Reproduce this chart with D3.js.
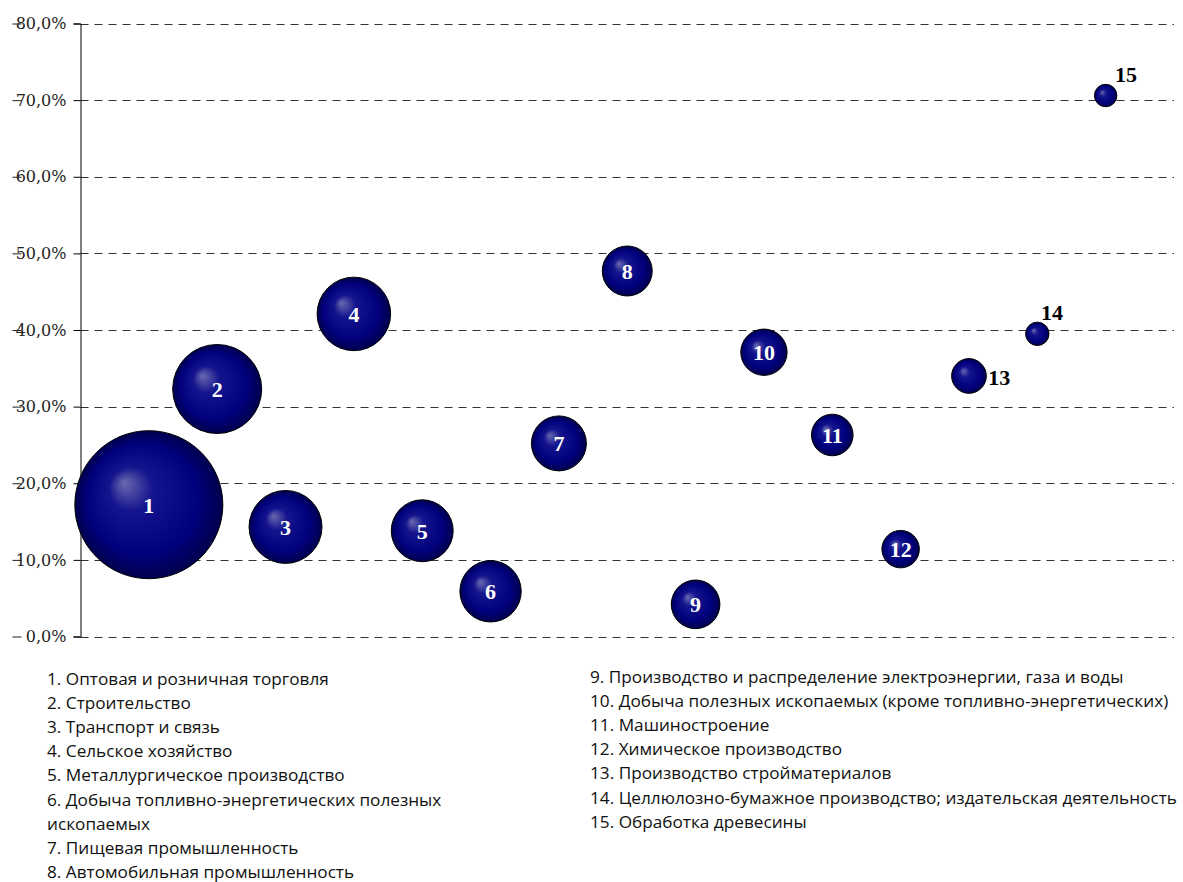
<!DOCTYPE html>
<html>
  <head>
    <meta charset="utf-8">
    <title>Bubble Chart</title>
    <script src="https://d3js.org/d3.v7.min.js"></script>
    <style>
      body { margin: 0; background: #fff; }
    </style>
  </head>
  <body>
    <div id="chart"></div>
    <script>
      // data
      var ids = [1, 2, 3, 4, 5, 6, 7, 8, 9, 10, 11, 12, 13, 14, 15];
      var growth = [17.2, 32.3, 14.3, 42.1, 13.8, 5.9, 25.2, 47.7, 4.2, 37.1, 26.3, 11.4, 34.0, 39.5, 70.6];
      var share = [100, 36.2, 24.3, 24.7, 17.5, 17.2, 13.8, 11.4, 10.8, 9.8, 7.9, 6.4, 5.5, 2.5, 2.3];
      var yTicks = [0, 10, 20, 30, 40, 50, 60, 70, 80];
      var names = [
        "Оптовая и розничная торговля",
        "Строительство",
        "Транспорт и связь",
        "Сельское хозяйство",
        "Металлургическое производство",
        "Добыча топливно-энергетических полезных ископаемых",
        "Пищевая промышленность",
        "Автомобильная промышленность",
        "Производство и распределение электроэнергии, газа и воды",
        "Добыча полезных ископаемых (кроме топливно-энергетических)",
        "Машиностроение",
        "Химическое производство",
        "Производство стройматериалов",
        "Целлюлозно-бумажное производство; издательская деятельность",
        "Обработка древесины"
      ];

      var width = 1183, height = 882;

      var svg = d3.select("#chart")
        .append("svg")
        .attr("width", width)
        .attr("height", height);

      // scales
      var x = d3.scaleLinear().domain([0, 16]).range([80.5, 1174]);
      var y = d3.scaleLinear().domain([0, 80]).range([636.5, 23.5]);
      var r = d3.scaleSqrt().domain([0, 100]).range([0, 74]);

      // sphere gradient
      var grad = svg.append("defs").append("radialGradient")
        .attr("id", "sphere")
        .attr("cx", "50%").attr("cy", "50%").attr("r", "50%")
        .attr("fx", "33%").attr("fy", "35%");
      grad.append("stop").attr("offset", "0%").attr("stop-color", "#6a6ab0");
      grad.append("stop").attr("offset", "30%").attr("stop-color", "#14148e");
      grad.append("stop").attr("offset", "75%").attr("stop-color", "#00007c");
      grad.append("stop").attr("offset", "100%").attr("stop-color", "#00004c");

      // gridlines
      svg.append("g")
        .selectAll("line")
        .data(yTicks)
        .enter()
        .append("line")
        .attr("x1", x(0))
        .attr("x2", x(16))
        .attr("y1", function(d) { return Math.round(y(d)) + 0.5; })
        .attr("y2", function(d) { return Math.round(y(d)) + 0.5; })
        .attr("stroke", "#333")
        .attr("stroke-width", 1)
        .attr("stroke-dasharray", "8,6");

      // y axis
      var fmt = d3.format(".1f");
      var yAxis = svg.append("g")
        .attr("transform", "translate(" + (Math.round(x(0)) - 0.5) + ",0)")
        .call(d3.axisLeft(y)
          .tickValues(yTicks)
          .tickSize(7)
          .tickPadding(7)
          .tickFormat(function(d) { return fmt(d).replace(".", ",") + "%"; }));
      yAxis.select(".domain").attr("stroke", "#000");
      yAxis.selectAll(".tick line").attr("stroke", "#000");
      yAxis.selectAll(".tick text")
        .attr("fill", "#222")
        .style("font-family", "'DejaVu Serif', serif")
        .style("font-size", "16px");
      // the little dash in front of each label
      yAxis.selectAll(".tick").append("line")
        .attr("x1", -68).attr("x2", -59)
        .attr("y1", 0).attr("y2", 0)
        .attr("stroke", "#222");

      // bubbles
      var data = ids.map(function(id, i) {
        return { id: id, growth: growth[i], share: share[i] };
      });

      var bubbles = svg.append("g")
        .selectAll("g")
        .data(data)
        .enter()
        .append("g")
        .attr("transform", function(d) { return "translate(" + x(d.id) + "," + y(d.growth) + ")"; });

      bubbles.append("circle")
        .attr("r", function(d) { return r(d.share); })
        .attr("fill", "url(#sphere)")
        .attr("stroke", "#000")
        .attr("stroke-width", 1);

      // labels: inside for big bubbles, outside for small ones
      var outside = { 13: "right", 14: "above", 15: "aboveRight" };
      bubbles.append("text")
        .text(function(d) { return d.id; })
        .attr("x", function(d) {
          if (outside[d.id] == "right") return r(d.share) + 2;
          if (outside[d.id] == "above") return r(d.share) - 8;
          if (outside[d.id] == "aboveRight") return r(d.share) - 2;
          return 0;
        })
        .attr("y", function(d) {
          if (outside[d.id] == "right") return 9;
          if (outside[d.id]) return -r(d.share) - 2;
          return 8;
        })
        .attr("text-anchor", function(d) { return outside[d.id] ? "start" : "middle"; })
        .attr("fill", function(d) { return outside[d.id] ? "#000" : "#fff"; })
        .style("font-family", "'Liberation Serif', serif")
        .style("font-weight", "bold")
        .style("font-size", "22px");

      // legend in two columns
      var legendFont = "'Open Sans', sans-serif";
      function addColumn(items, x0, y0, maxW) {
        var g = svg.append("g")
          .style("font-family", legendFont)
          .style("font-size", "17.2px")
          .attr("fill", "#111");
        var line = 0;
        items.forEach(function(it) {
          var words = (it.id + ". " + it.name).split(" ");
          var t = g.append("text").attr("x", x0).attr("y", y0 + line * 24.1);
          var cur = [];
          words.forEach(function(w) {
            cur.push(w);
            t.text(cur.join(" "));
            if (t.node().getComputedTextLength() > maxW && cur.length > 1) {
              cur.pop();
              t.text(cur.join(" "));
              line++;
              cur = [w];
              t = g.append("text").attr("x", x0).attr("y", y0 + line * 24.1).text(w);
            }
          });
          line++;
        });
      }
      var items = ids.map(function(id, i) { return { id: id, name: names[i] }; });
      addColumn(items.slice(0, 8), 47, 685, 440);
      addColumn(items.slice(8), 590, 683, 700);
    </script>
  </body>
</html>
